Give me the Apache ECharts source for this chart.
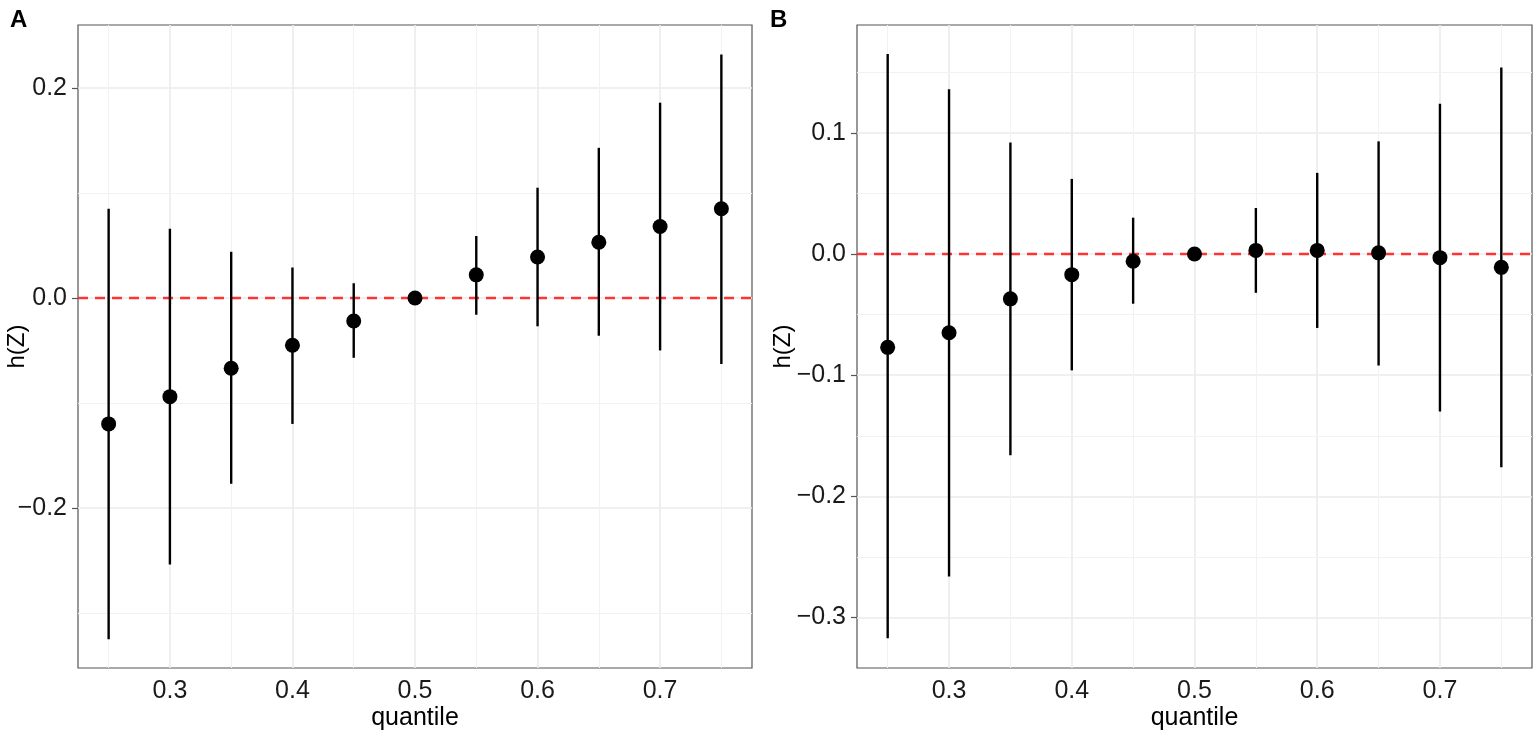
<!DOCTYPE html>
<html>
<head>
<meta charset="utf-8">
<script src="https://cdn.jsdelivr.net/npm/echarts@6/dist/echarts.min.js"></script>
<style>
html,body{margin:0;padding:0;background:#fff;}
#chart{width:1533px;height:731px;}
</style>
</head>
<body>
<div id="chart"></div>
<script>
// ---- data ----
const quantiles = [0.25, 0.30, 0.35, 0.40, 0.45, 0.50, 0.55, 0.60, 0.65, 0.70, 0.75];

const estA = [-0.120, -0.094, -0.067, -0.045, -0.022, 0.000, 0.022, 0.039, 0.053, 0.068, 0.085];
const hiA  = [ 0.085,  0.066,  0.044,  0.029,  0.014, 0.000, 0.059, 0.105, 0.143, 0.186, 0.232];
const loA  = [-0.325, -0.254, -0.177, -0.120, -0.057, 0.000, -0.016, -0.027, -0.036, -0.050, -0.063];

const estB = [-0.077, -0.065, -0.037, -0.017, -0.006, 0.000, 0.003, 0.003, 0.001, -0.003, -0.011];
const hiB  = [ 0.165,  0.136,  0.092,  0.062,  0.030, 0.000, 0.038, 0.067, 0.093, 0.124, 0.154];
const loB  = [-0.317, -0.266, -0.166, -0.096, -0.041, 0.000, -0.032, -0.061, -0.092, -0.130, -0.176];

const xTicks = [0.3, 0.4, 0.5, 0.6, 0.7];
const xMinor = [0.25, 0.35, 0.45, 0.55, 0.65, 0.75];
const yTicksA = [-0.2, 0.0, 0.2];
const yMinorA = [-0.3, -0.1, 0.1];
const yTicksB = [-0.3, -0.2, -0.1, 0.0, 0.1];
const yMinorB = [-0.25, -0.15, -0.05, 0.05, 0.15];

const xRange = [0.225, 0.775];
const yRangeA = [-0.3525, 0.260];
const yRangeB = [-0.3416, 0.189];

const refLine = 0;

// ---- helpers ----
const FONT = '"Liberation Sans", Arial, Helvetica, sans-serif';
const frameColor = '#555555';
const majorGrid = '#ebebeb';
const minorGrid = '#f2f2f2';

function fmtY(v){
  const s = Number(v).toFixed(1);
  return s.replace('-', '\u2212');
}

function xAxisDef(gi){
  return {
    type:'value', gridIndex: gi, min: xRange[0], max: xRange[1],
    name:'quantile', nameLocation:'middle', nameGap: 38, nameMoveOverlap:false,
    nameTextStyle:{fontFamily:FONT, fontSize:25, color:'#000'},
    axisLine:{show:false},
    axisTick:{show:true, length:6, inside:false, lineStyle:{color:frameColor, width:1.2}, customValues: xTicks},
    axisLabel:{show:true, fontFamily:FONT, fontSize:25, color:'#1a1a1a', margin:11, customValues: xTicks,
      formatter: v => Number(v).toFixed(1)},
    splitLine:{show:true, lineStyle:{color:majorGrid, width:1.6}}
  };
}
function yAxisDef(gi, range, ticks, gap){
  return {
    type:'value', gridIndex: gi, min: range[0], max: range[1],
    name:'h(Z)', nameLocation:'middle', nameGap: gap, nameRotate: 90, nameMoveOverlap:false,
    nameTextStyle:{fontFamily:FONT, fontSize:24, color:'#000'},
    axisLine:{show:false},
    axisTick:{show:true, length:6, inside:false, lineStyle:{color:frameColor, width:1.2}, customValues: ticks},
    axisLabel:{show:true, fontFamily:FONT, fontSize:25, color:'#1a1a1a', margin:11, customValues: ticks,
      formatter: fmtY},
    splitLine:{show:true, lineStyle:{color:majorGrid, width:1.6}}
  };
}

function minorGridSeries(gi, yMinor){
  const lines = [];
  xMinor.forEach(v => lines.push({xAxis: v}));
  yMinor.forEach(v => lines.push({yAxis: v}));
  return {
    type:'line', xAxisIndex: gi, yAxisIndex: gi, data: [], silent:true,
    markLine:{silent:true, symbol:['none','none'], z:1, animation:false,
      label:{show:false}, lineStyle:{color:minorGrid, width:1, type:'solid'},
      emphasis:{disabled:true}, data: lines}
  };
}
function refSeries(gi){
  return {
    type:'line', xAxisIndex: gi, yAxisIndex: gi, data: [], silent:true,
    markLine:{silent:true, symbol:['none','none'], z:2, animation:false,
      label:{show:false}, lineStyle:{color:'#ff3333', width:2.4, type:[10,7]},
      emphasis:{disabled:true}, data: [{yAxis: refLine}]}
  };
}
function errSeries(gi, lo, hi){
  const data = quantiles.map((q,i) => [q, lo[i], hi[i]]);
  return {
    type:'custom', xAxisIndex: gi, yAxisIndex: gi, z:3, silent:true, animation:false,
    data: data,
    encode:{x:0, y:[1,2]},
    renderItem: function(params, api){
      const p1 = api.coord([api.value(0), api.value(1)]);
      const p2 = api.coord([api.value(0), api.value(2)]);
      return {type:'line', shape:{x1:p1[0], y1:p1[1], x2:p2[0], y2:p2[1]},
        style:{stroke:'#000', lineWidth:2.4}};
    }
  };
}
function ptSeries(gi, est){
  return {
    type:'scatter', xAxisIndex: gi, yAxisIndex: gi, z:4, silent:true, animation:false,
    symbol:'circle', symbolSize:15, itemStyle:{color:'#000', opacity:1},
    data: quantiles.map((q,i) => [q, est[i]])
  };
}

const option = {
  backgroundColor:'#fff',
  animation:false,
  title:[
    {text:'A', left:5, top:3, textStyle:{fontFamily:FONT, fontSize:24, fontWeight:'bold', color:'#000'}},
    {text:'B', left:765, top:3, textStyle:{fontFamily:FONT, fontSize:24, fontWeight:'bold', color:'#000'}}
  ],
  grid:[
    {left:78, top:25, width:674, height:643, show:true, borderColor:frameColor, borderWidth:1.2, backgroundColor:'#fff', containLabel:false, outerBoundsMode:'none'},
    {left:857, top:25, width:675, height:643, show:true, borderColor:frameColor, borderWidth:1.2, backgroundColor:'#fff', containLabel:false, outerBoundsMode:'none'}
  ],
  xAxis:[xAxisDef(0), xAxisDef(1)],
  yAxis:[yAxisDef(0, yRangeA, yTicksA, 49), yAxisDef(1, yRangeB, yTicksB, 62)],
  series:[
    minorGridSeries(0, yMinorA), refSeries(0), errSeries(0, loA, hiA), ptSeries(0, estA),
    minorGridSeries(1, yMinorB), refSeries(1), errSeries(1, loB, hiB), ptSeries(1, estB)
  ]
};

const chart = echarts.init(document.getElementById('chart'), null, {renderer:'canvas'});
chart.setOption(option);
</script>
</body>
</html>
